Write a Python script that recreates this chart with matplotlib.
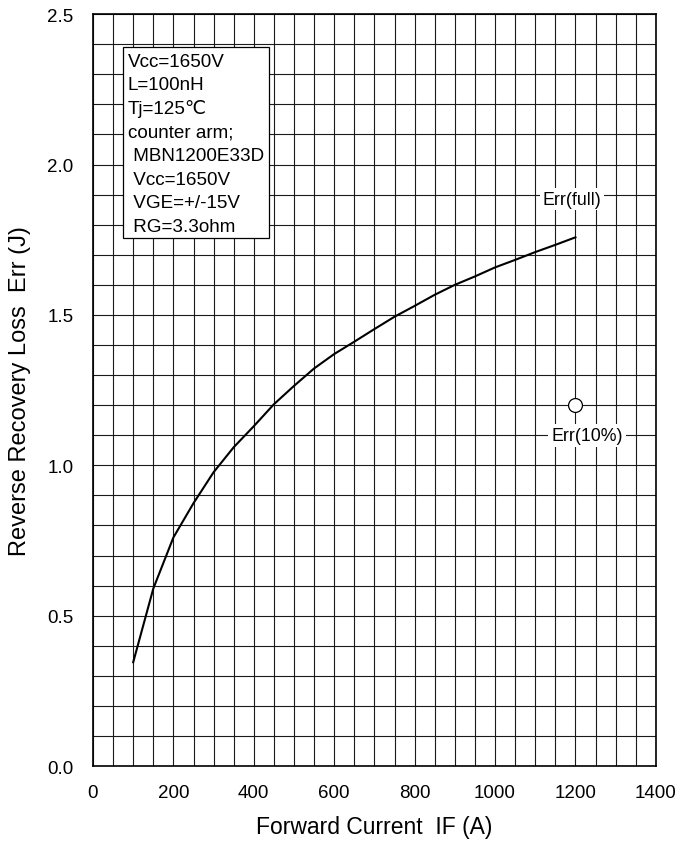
import matplotlib
matplotlib.use("Agg")
import matplotlib.pyplot as plt
from matplotlib.patches import Rectangle
import numpy as np

plt.rcParams['font.family'] = ['Liberation Sans', 'DejaVu Sans']

# Data
current_A = [100, 150, 200, 250, 300, 350, 400, 450, 500, 550, 600, 650, 700,
             750, 800, 850, 900, 950, 1000, 1050, 1100, 1150, 1200]
err_full_J = [0.345, 0.59, 0.76, 0.874, 0.977, 1.06, 1.13, 1.203, 1.264, 1.322,
              1.370, 1.411, 1.453, 1.494, 1.53, 1.567, 1.60, 1.628, 1.658, 1.683,
              1.709, 1.733, 1.758]
err10_current = [1200]
err10_J = [1.2]

x_ticks = [0, 200, 400, 600, 800, 1000, 1200, 1400]
y_ticks = [0.0, 0.5, 1.0, 1.5, 2.0, 2.5]
y_ticklabels = ["0.0", "0.5", "1.0", "1.5", "2.0", "2.5"]

info_lines = ["Vcc=1650V", "L=100nH", "Tj=125\u2103", "counter arm;",
              " MBN1200E33D", " Vcc=1650V", " VGE=+/-15V", " RG=3.3ohm"]

fig = plt.figure(figsize=(6.94, 8.45), dpi=100)
ax = fig.add_axes([0.134, 0.0923, 0.811, 0.8897])

ax.set_xlim(0, 1400)
ax.set_ylim(0, 2.5)
ax.set_xticks(np.arange(0, 1401, 50), minor=True)
ax.set_yticks(np.arange(0, 2.501, 0.1), minor=True)
ax.set_xticks(x_ticks)
ax.set_yticks(y_ticks)
ax.set_yticklabels(y_ticklabels)
ax.grid(True, which='both', color='#1a1a1a', linewidth=0.8)
ax.tick_params(which='both', direction='in', length=0, labelsize=13.5)
ax.tick_params(axis='x', pad=13)
ax.tick_params(axis='y', pad=14)
for s in ax.spines.values():
    s.set_linewidth(1.2)
ax.set_axisbelow(True)

ax.plot(current_A, err_full_J, color='black', linewidth=1.5, zorder=4)
ax.plot(err10_current, err10_J, marker='o', markersize=10, markerfacecolor='white',
        markeredgecolor='black', markeredgewidth=0.9, linestyle='none', zorder=5)

ax.text(1191, 1.885, "Err(full)", fontsize=12.8, ha='center', va='center', zorder=5,
        bbox=dict(facecolor='white', edgecolor='none', pad=2))
ax.text(1229, 1.10, "Err(10%)", fontsize=12.8, ha='center', va='center', zorder=5,
        bbox=dict(facecolor='white', edgecolor='none', pad=2))

ax.add_patch(Rectangle((75, 1.755), 363, 0.635, facecolor='white',
                       edgecolor='black', linewidth=0.9, zorder=6))
for i, line in enumerate(info_lines):
    ax.text(87, 2.344 - i * 0.0785, line, fontsize=13.6, ha='left', va='center',
            zorder=7)

ax.set_xlabel("Forward Current  IF (A)", fontsize=16.5, labelpad=10)
ax.set_ylabel("Reverse Recovery Loss  Err (J)", fontsize=17, labelpad=12)

fig.savefig("out.png", dpi=100)
